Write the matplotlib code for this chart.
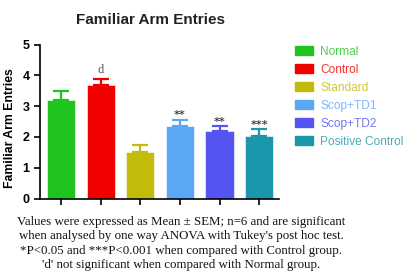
import matplotlib
matplotlib.use('Agg')
import matplotlib.pyplot as plt
import numpy as np

# data
groups = ['Normal', 'Control', 'Standard', 'Scop+TD1', 'Scop+TD2', 'Positive Control']
means = [3.2, 3.7, 1.52, 2.36, 2.2, 2.03]
sems = [0.28, 0.2, 0.22, 0.2, 0.15, 0.22]
marks = ['', 'd', '', '**', '**', '***']
colors = ['#1fc41f', '#f20000', '#c2bb0a', '#5aa8f5', '#5555f2', '#1b97ab']
notes = [
    "Values were expressed as Mean \u00b1 SEM; n=6 and are significant",
    "when analysed by one way ANOVA with Tukey's post hoc test.",
    "*P<0.05 and ***P<0.001 when compared with Control group.",
    "'d' not significant when compared with Normal group.",
]

W, H = 408, 273
fig = plt.figure(figsize=(W / 100, H / 100), dpi=100)
ax = fig.add_axes([40 / W, 1 - 198.5 / H, 239 / W, 153.8 / H])

x = np.arange(len(groups))
ax.bar(x, means, width=0.71, color=colors, edgecolor='white', linewidth=0.4)
for xi, m, s, c in zip(x, means, sems, colors):
    ax.errorbar(xi, m, yerr=[[0], [s]], color=c, capsize=6, elinewidth=1.6,
                capthick=1.6, fmt='none')
for xi, m, s, t in zip(x, means, sems, marks):
    if t == 'd':
        ax.text(xi, m + s + 0.08, t, ha='center', va='bottom', fontsize=9,
                family='Liberation Serif', color='#555555')
    elif t:
        ax.text(xi, m + s - 0.02, t, ha='center', va='bottom', fontsize=8,
                fontweight='bold', color='#444444')

ax.set_xlim(-0.53, 5.5)
ax.set_ylim(0, 5)
ax.set_xticks(x)
ax.set_xticklabels([])
ax.set_yticks(range(6))
ax.tick_params(axis='both', direction='out', length=4, width=1.2)
for lab in ax.get_yticklabels():
    lab.set_fontweight('bold')
    lab.set_fontsize(9)
    lab.set_family('Liberation Sans')
for sp in ['top', 'right']:
    ax.spines[sp].set_visible(False)
for sp in ['left', 'bottom']:
    ax.spines[sp].set_linewidth(1.2)

ax.set_ylabel('Familiar Arm Entries', fontsize=8.8, fontweight='bold',
              family='Liberation Sans')
ax.yaxis.set_label_coords(-0.1, 0.46)
fig.text(150 / W, 1 - 20 / H, 'Familiar Arm Entries', ha='center', va='center',
         fontsize=11, fontweight='bold', family='Liberation Sans', color='#222222')

# legend
handles = [plt.Rectangle((0, 0), 1, 1, color=c) for c in colors]
leg = fig.legend(handles, groups, loc='upper left',
                 bbox_to_anchor=(295 / W, 1 - 46 / H), frameon=False,
                 borderpad=0, borderaxespad=0, handlelength=1.5,
                 handleheight=0.8, handletextpad=0.6, labelspacing=0.5,
                 prop={'family': 'Liberation Sans', 'size': 8.6})
for txt, c in zip(leg.get_texts(), colors):
    txt.set_color(c)
    txt.set_alpha(0.8)

# footnote
for i, line in enumerate(notes):
    fig.text(181 / W, 1 - (222 + 14.3 * i) / H, line, ha='center', va='center',
             fontsize=9.3, family='Liberation Serif', color='#111111')

plt.savefig('out.png', dpi=100)
plt.close()
